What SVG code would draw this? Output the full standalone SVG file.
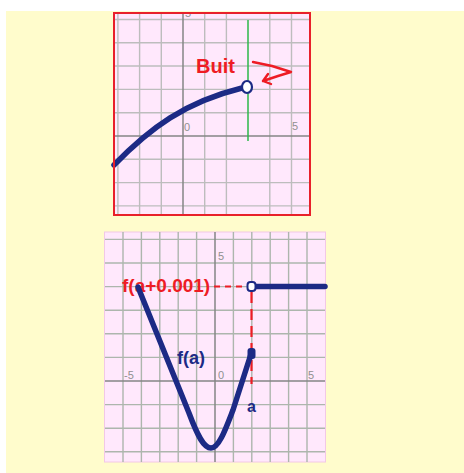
<svg xmlns="http://www.w3.org/2000/svg" width="464" height="473" viewBox="0 0 464 473">
<style>
.grid{stroke:#bdbdbd;stroke-width:1.4;fill:none}
.grid2{stroke:#adb6ad;stroke-width:1.4;fill:none}
.axis{stroke:#858585;stroke-width:1.5}
.curve{stroke:#1c2a85;stroke-width:5.5;fill:none;stroke-linecap:round;stroke-linejoin:round}
.tick{font-family:"Liberation Sans",Arial,sans-serif;font-size:11px;fill:#909090}
.red{stroke:#ee1c24;fill:none}
</style>
<defs>
<clipPath id="c1"><rect x="114" y="13" width="196" height="202"/></clipPath>
</defs>
<rect x="0" y="0" width="464" height="473" fill="#ffffff"/>
<rect x="6" y="11" width="458" height="462" fill="#fffccc"/>

<g id="graph-top">
<rect x="114" y="13" width="196" height="202" fill="#ffe8fc"/>
<g clip-path="url(#c1)">
<path class="grid" d="M117.9,13V215M139.6,13V215M161.3,13V215M204.7,13V215M226.4,13V215M269.8,13V215M291.5,13V215M114,19.5H310M114,42.8H310M114,66H310M114,89.4H310M114,112.7H310M114,159.3H310M114,182.6H310M114,205.9H310"/>
<path class="axis" d="M183,13V215M114,136H310"/>
<text class="tick" x="185" y="17">5</text>
</g>
<path d="M248,20V141" stroke="#2db84a" stroke-width="1.5"/>
<text class="tick" x="184" y="131">0</text>
<text class="tick" x="292" y="130">5</text>
<path class="curve" d="M114,165 C150,128 185,102 242,88"/>
<ellipse cx="247" cy="87" rx="5" ry="6" fill="#ffffff" stroke="#1c2a85" stroke-width="2.2"/>
<text x="196" y="73" font-family="Liberation Sans,Arial,sans-serif" font-size="20" font-weight="bold" fill="#ee1c24">Buit</text>
<path class="red" stroke-width="2.4" stroke-linecap="round" stroke-linejoin="round" d="M253,62 L272,66 L291,72 L278,76 L263,81 M268,74 L263,81 L271,84"/>
<rect x="114" y="13" width="196" height="202" fill="none" stroke="#e8202a" stroke-width="2"/>
</g>

<g id="graph-bottom">
<rect x="104.5" y="232" width="221" height="230" fill="#ffe8fc" stroke="#f2c8e6" stroke-width="1"/>
<path class="grid2" d="M123,232V462M141.4,232V462M159.8,232V462M178.2,232V462M196.6,232V462M233.4,232V462M251.8,232V462M270.2,232V462M288.6,232V462M307,232V462M105,239.4H325M105,263H325M105,286.6H325M105,310.2H325M105,333.8H325M105,357.4H325M105,404.6H325M105,428.2H325M105,451.8H325"/>
<path class="axis" stroke="#97a097" d="M215,232V462M105,381H325"/>
<text class="tick" x="124" y="379">-5</text>
<text class="tick" x="218" y="379">0</text>
<text class="tick" x="308" y="379">5</text>
<text class="tick" x="218" y="260">5</text>
<text x="122" y="292" font-family="Liberation Sans,Arial,sans-serif" font-size="19" font-weight="bold" fill="#ee1c24">f(a+0.001)</text>
<path class="red" stroke-width="2" stroke-dasharray="6,5" d="M214,286.5H246"/>
<path class="red" stroke-width="2.2" stroke-dasharray="11,6" d="M251.5,292V384"/>
<path class="curve" d="M138,287 L189,413 C198,437 204,448 211,448 C219,448 226,428 233,410 L251,354"/>
<path class="curve" d="M256,286.5H325"/>
<rect x="247.5" y="282" width="8" height="9" rx="3" fill="#ffffff" stroke="#1c2a85" stroke-width="2"/>
<rect x="247.5" y="348" width="8" height="11" rx="3" fill="#1c2a85"/>
<text x="177" y="364" font-family="Liberation Sans,Arial,sans-serif" font-size="18" font-weight="bold" fill="#1c2a85">f(a)</text>
<text x="251.5" y="412" text-anchor="middle" font-family="Liberation Sans,Arial,sans-serif" font-size="16" font-weight="bold" fill="#1c2a85">a</text>
</g>
</svg>
